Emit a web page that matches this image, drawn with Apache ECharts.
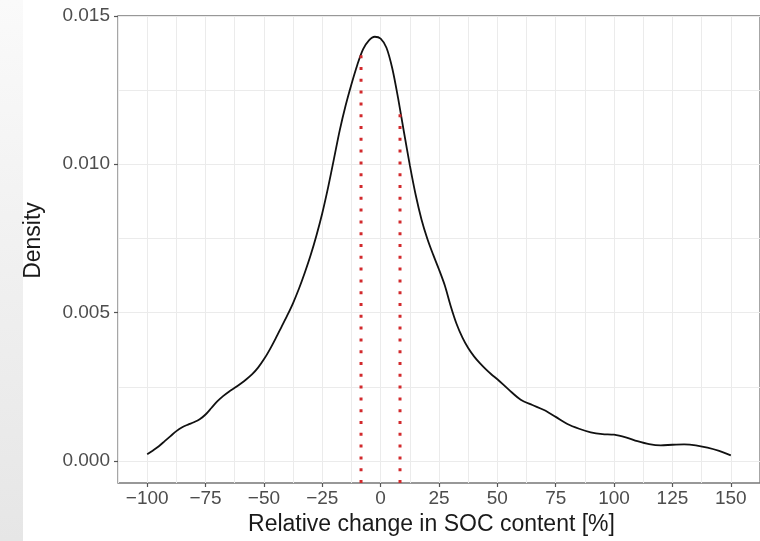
<!DOCTYPE html>
<html>
<head>
<meta charset="utf-8">
<script src="https://cdn.jsdelivr.net/npm/echarts@6/dist/echarts.min.js"></script>
<style>
  html, body { margin: 0; padding: 0; background: #fff; }
  #chart { width: 760px; height: 541px; }
</style>
</head>
<body>
<div id="chart"></div>
<script>
// relative change in SOC content [%] and estimated density
var socChange = [-100, -97.5, -95, -92.5, -90, -87.5, -85, -82.5, -80, -77.5, -75, -72.5, -70, -67.5, -65, -62.5,
    -60, -57.5, -55, -52.5, -50, -47.5, -45, -42.5, -40, -37.5, -35, -32.5, -30, -27.5, -25, -22.5,
    -20, -17.5, -15, -12.5, -10, -7.5, -5, -2.5, 0, 2.5, 5, 7.5, 10, 12.5, 15, 17.5,
    20, 22.5, 25, 27.5, 30, 32.5, 35, 37.5, 40, 42.5, 45, 47.5, 50, 55, 60, 65,
    70, 75, 80, 85, 90, 95, 100, 105, 110, 115, 120, 125, 130, 135, 140, 145, 150];
var density = [0.00022, 0.00035, 0.00049, 0.00066, 0.00083, 0.00100, 0.00113, 0.00122, 0.00130, 0.00140, 0.00156, 0.00178, 0.00200, 0.00218, 0.00233, 0.00246,
    0.00260, 0.00275, 0.00292, 0.00314, 0.00342, 0.00375, 0.00412, 0.00451, 0.00490, 0.00532, 0.00580, 0.00634, 0.00693, 0.00760, 0.00835, 0.00922,
    0.01018, 0.01115, 0.01198, 0.01270, 0.01335, 0.01388, 0.01418, 0.01430, 0.01424, 0.01393, 0.01323, 0.01222, 0.01108, 0.00997, 0.00897, 0.00814,
    0.00749, 0.00695, 0.00645, 0.00591, 0.00522, 0.00462, 0.00416, 0.00380, 0.00352, 0.00329, 0.00309, 0.00291, 0.00275, 0.00239, 0.00206, 0.00188,
    0.00171, 0.00148, 0.00124, 0.00108, 0.00096, 0.00090, 0.00088, 0.00079, 0.00066, 0.00056, 0.00052, 0.00054, 0.00055, 0.00052, 0.00044, 0.00033, 0.00018];

// dotted quantile markers: position and the density they reach
var quantileX = [-8.4, 8.3];
var quantileTop = [0.0137, 0.0119];

var xTicks = [-100, -75, -50, -25, 0, 25, 50, 75, 100, 125, 150];
var yTicks = [0, 0.005, 0.010, 0.015];

var xMin = -112.5, xMax = 162.5;
var yMin = -0.00075, yMax = 0.015;

var chart = echarts.init(document.getElementById('chart'));

var curve = socChange.map(function(x, i) { return [x, density[i]]; });

var font = '"Liberation Sans", Arial, Helvetica, sans-serif';
var tickColor = '#4d4d4d';
var gridColor = '#ebebeb';

function minus(v) {
    return String(v).replace('-', '\u2212');
}

var series = [{
    type: 'line',
    xAxisIndex: 0,
    yAxisIndex: 0,
    data: curve,
    smooth: 0.3,
    showSymbol: false,
    lineStyle: { color: '#111', width: 1.8 },
    z: 3
}];
quantileX.forEach(function(q, i) {
    series.push({
        type: 'line',
        xAxisIndex: 0,
        yAxisIndex: 0,
        data: [[q, yMin], [q, quantileTop[i]]],
        showSymbol: false,
        lineStyle: { color: '#d22a2d', width: 3, type: [3, 8.8], cap: 'butt' },
        z: 4
    });
});

var option = {
    backgroundColor: '#fff',
    animation: false,
    graphic: [{
        type: 'rect',
        shape: { x: 0, y: 0, width: 23, height: 541 },
        style: {
            fill: new echarts.graphic.LinearGradient(0, 0, 0, 1, [
                { offset: 0, color: '#fafafa' },
                { offset: 1, color: '#e6e6e6' }
            ])
        },
        z: -10
    }],
    grid: [
        // panel
        { left: 118, top: 16, width: 646, height: 467, show: true, borderColor: '#777', borderWidth: 1.3, backgroundColor: 'transparent' },
        // helper for the horizontal grid lines (0 .. 0.015)
        { left: 118, top: 16, width: 646, height: 445 }
    ],
    xAxis: [{
        // vertical grid lines, major and minor
        type: 'value', gridIndex: 0, min: xMin, max: xMax, interval: 12.5,
        axisLine: { show: false, onZero: false }, axisTick: { show: false }, axisLabel: { show: false },
        splitLine: { show: true, lineStyle: { color: gridColor, width: 1 } }
    }, {
        type: 'value', gridIndex: 1, show: false, min: xMin, max: xMax
    }, {
        // tick labels and axis title
        type: 'value', gridIndex: 0, position: 'bottom', min: xMin, max: xMax,
        axisLine: { show: false, onZero: false },
        axisTick: { show: true, customValues: xTicks, length: 4, lineStyle: { color: '#555', width: 1.2 } },
        axisLabel: { customValues: xTicks, formatter: minus, fontSize: 19, color: tickColor, fontFamily: font, margin: 6 },
        splitLine: { show: false },
        name: 'Relative change in SOC content [%]',
        nameLocation: 'middle',
        nameGap: 27,
        nameTextStyle: { fontSize: 23, color: '#1a1a1a', fontFamily: font, padding: [0, 15, 0, 0] }
    }],
    yAxis: [{
        type: 'value', gridIndex: 0, position: 'left', min: yMin, max: yMax,
        axisLine: { show: false, onZero: false },
        axisTick: { show: true, customValues: yTicks, length: 4, lineStyle: { color: '#555', width: 1.2 } },
        axisLabel: {
            customValues: yTicks, fontSize: 19, color: tickColor, fontFamily: font, margin: 8,
            formatter: function(v) { return v.toFixed(3); }
        },
        splitLine: { show: false },
        name: 'Density',
        nameLocation: 'middle',
        nameRotate: 90,
        nameGap: 73,
        nameTextStyle: { fontSize: 23, color: '#1a1a1a', fontFamily: font, padding: [0, 0, 0, 18] }
    }, {
        type: 'value', gridIndex: 1, min: 0, max: yMax, interval: 0.0025,
        axisLine: { show: false, onZero: false }, axisTick: { show: false }, axisLabel: { show: false },
        splitLine: { show: true, lineStyle: { color: gridColor, width: 1 } }
    }],
    series: series
};

chart.setOption(option);
</script>
</body>
</html>
